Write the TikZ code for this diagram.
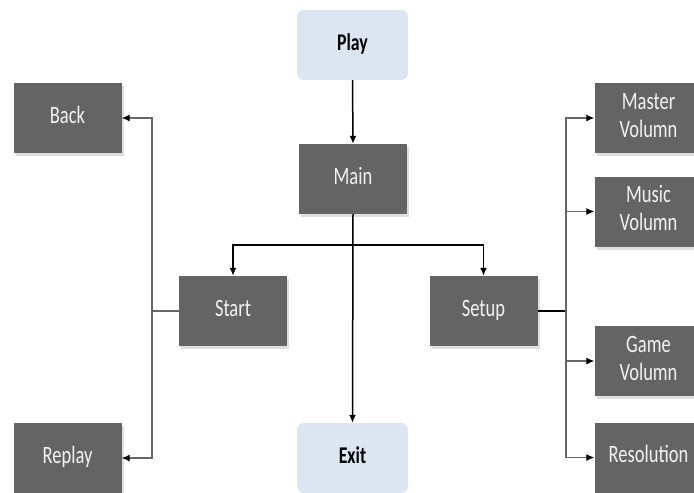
\documentclass[tikz,border=0pt]{standalone}
\usepackage{fontspec}
\setmainfont{Carlito}
\usetikzlibrary{arrows.meta,shadows}
\definecolor{boxgray}{HTML}{646464}
\definecolor{boxblue}{HTML}{DCE6F2}
\definecolor{txtlight}{HTML}{F2F2F2}
\newcommand{\boxtxt}[1]{\scalebox{0.74}[1]{\begin{tabular}{@{}c@{}}#1\end{tabular}}}
\begin{document}
\begin{tikzpicture}[x=1pt,y=-1pt,
  graybox/.style={draw=none,fill=boxgray,text=txtlight,minimum width=108pt,minimum height=70pt,
    inner sep=0pt,font=\fontsize{25}{27}\selectfont,
    drop shadow={shadow xshift=2pt,shadow yshift=-3pt,opacity=0.25}},
  bluebox/.style={draw=none,fill=boxblue,text=black,rounded corners=7pt,minimum width=111pt,minimum height=70pt,
    inner sep=0pt,font=\fontsize{24}{27}\selectfont\bfseries},
  mainline/.style={draw=black,line width=1.5pt},
  sideline/.style={draw=black!60,line width=1.1pt},
  tip/.style={-{Latex[length=8pt,width=7pt,color=black]}}
]
\useasboundingbox (0,0) rectangle (694,493);
\node[bluebox] (play) at (352.5,45) {\boxtxt{Play}};
\node[graybox] (main) at (353,179) {\boxtxt{Main}};
\node[graybox] (start) at (233,311) {\boxtxt{Start}};
\node[graybox] (setup) at (483.5,311) {\boxtxt{Setup}};
\node[graybox] (back) at (67.5,118) {\boxtxt{Back}};
\node[graybox] (replay) at (67.5,458) {\boxtxt{Replay}};
\node[bluebox] (exit) at (352.5,458) {\boxtxt{Exit}};
\node[graybox] (master) at (648.5,118) {\boxtxt{Master\\[1pt]Volumn}};
\node[graybox] (music) at (648.5,211.5) {\boxtxt{Music\\[1pt]Volumn}};
\node[graybox] (game) at (648.5,361) {\boxtxt{Game\\[1pt]Volumn}};
\node[graybox] (res) at (648.5,457.5) {\boxtxt{Resolution}};

\coordinate (br) at (353,245);
\coordinate (lb) at (152,311);
\coordinate (rb) at (566,311);

\draw[mainline,tip] (play.south) -- (main.north);
\draw[mainline,tip] (main.south) -- (exit.north);
\draw[mainline,tip] (br) -| (start.north);
\draw[mainline,tip] (br) -| (setup.north);

\draw[sideline] (start.west) -- (lb);
\draw[sideline,tip] (lb) |- (back.east);
\draw[sideline,tip] (lb) |- (replay.east);

\draw[mainline] (setup.east) -- (rb);
\draw[sideline,tip] (rb) |- (master.west);
\draw[sideline,tip] (rb) |- (music.west);
\draw[sideline,tip] (rb) |- (game.west);
\draw[sideline,tip] (rb) |- (res.west);
\end{tikzpicture}
\end{document}
